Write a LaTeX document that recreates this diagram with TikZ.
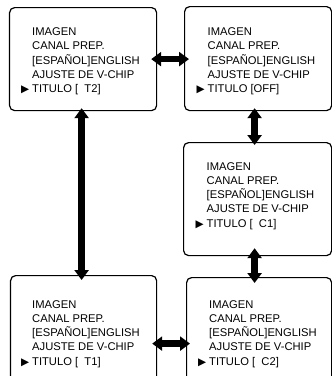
\documentclass[tikz,border=0pt]{standalone}
\usepackage{fontspec}
\setmainfont{Liberation Sans}
\newfontfamily\symfont{DejaVu Sans}
\usetikzlibrary{arrows.meta}
\newcommand\menutext[1]{IMAGEN\\CANAL PREP.\\{[}ESPAÑOL{]}ENGLISH\\AJUSTE DE V-CHIP\\\llap{\symfont\fontsize{10.5}{10.5}\selectfont ▶\hspace{3pt}}TITULO #1}
\begin{document}
\begin{tikzpicture}[x=1pt,y=-1pt,
  screen/.style={draw, line width=1.2pt, rounded corners=5pt, inner sep=0pt, anchor=north west},
  menu/.style={anchor=north west, inner sep=0pt, align=left, font=\fontsize{11.2}{14.3}\selectfont},
  dbl/.style={line width=6.5pt, {Triangle[length=10pt,width=14pt]}-{Triangle[length=10pt,width=14pt]}}]
\useasboundingbox (0,0) rectangle (332,376);
\clip (0,0) rectangle (332,376);
% screens
\node[screen, minimum width=147pt, minimum height=103pt] (tl) at (9,7) {};
\node[screen, minimum width=147pt, minimum height=104pt] (tr) at (184,6) {};
\node[screen, minimum width=148pt, minimum height=113pt] (mr) at (183,142) {};
\node[screen, minimum width=146pt, minimum height=136pt] (bl) at (10,275) {};
\node[screen, minimum width=145pt, minimum height=132pt] (br) at (186,277) {};
% menu texts
\node[menu] (tlt) at (32,27.5) {\menutext{[\ \ T2]}};
\node[menu] (trt) at (207.5,27.5) {\menutext{[OFF]}};
\node[menu] (mrt) at (206.5,162) {\menutext{[\ \ C1]}};
\node[menu] (blt) at (32,300) {\menutext{[\ \ T1]}};
\node[menu] (brt) at (209,300) {\menutext{[\ \ C2]}};
% connectors
\draw[dbl] ([xshift=-6pt]tl.east) -- ([xshift=5pt]tl.east -| tr.west);
\draw[dbl] ([xshift=-5pt]bl.east) -- ([xshift=4pt]bl.east -| br.west);
\draw[dbl] ([xshift=-3.5pt,yshift=3pt]tr.south) -- ([xshift=-3pt,yshift=-3pt]mr.north);
\draw[dbl] ([xshift=-3pt,yshift=8pt]mr.south) -- ([xshift=-4.5pt,yshift=-6pt]br.north);
\draw[dbl] ([xshift=-1.5pt,yshift=3pt]tl.south) -- ([xshift=-2pt,yshift=-5pt]bl.north);
\end{tikzpicture}
\end{document}
